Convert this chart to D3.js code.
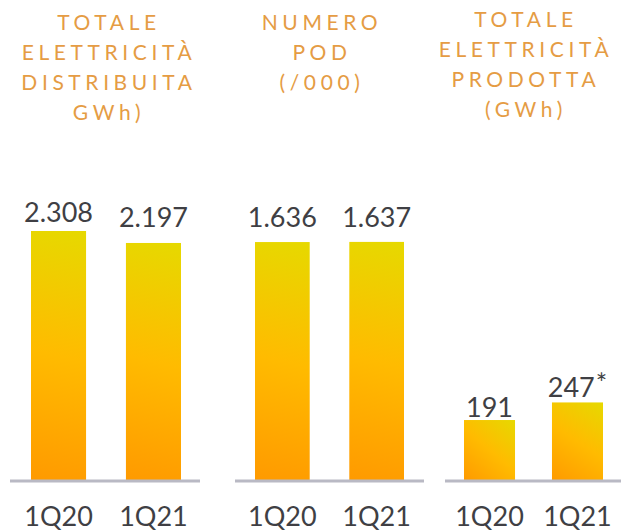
<!DOCTYPE html>
<html>
<head>
<meta charset="utf-8">
<script src="https://cdn.jsdelivr.net/npm/d3@7"></script>
<style>
  html, body { margin: 0; padding: 0; background: #fff; }
  svg { display: block; }
</style>
</head>
<body>
<svg id="chart" width="621" height="531"></svg>
<script>
// Quarterly figures, one small block per panel
const periods = ["1Q20", "1Q21"];
const distributedGWh = [2308, 2197];
const podThousands = [1636, 1637];
const producedGWh = [191, 247];

const valueLabelsDistributed = ["2.308", "2.197"];
const valueLabelsPod = ["1.636", "1.637"];
const valueLabelsProduced = ["191", "247"];
const noteMarksProduced = ["", "*"];

const titleDistributed = ["TOTALE", "ELETTRICITÀ", "DISTRIBUITA", "GWh)"];
const titlePod = ["NUMERO", "POD", "(/000)"];
const titleProduced = ["TOTALE", "ELETTRICITÀ", "PRODOTTA", "(GWh)"];

// Layout of the three small-multiple panels (each has its own value scale)
const panels = [
  { values: distributedGWh, labels: valueLabelsDistributed, notes: ["", ""], title: titleDistributed,
    bandRange: [31, 181], base: [10, 200], yMax: 2308, titleX: 109, titleY: 30, labelGap: [9, 16] },
  { values: podThousands, labels: valueLabelsPod, notes: ["", ""], title: titlePod,
    bandRange: [255, 404], base: [235, 424], yMax: 1712, titleX: 322, titleY: 30, labelGap: [15, 15] },
  { values: producedGWh, labels: valueLabelsProduced, notes: noteMarksProduced, title: titleProduced,
    bandRange: [464, 603], base: [445, 621], yMax: 793, titleX: 526, titleY: 27, labelGap: [3, 5] }
];

const baseY = 480;
const plotH = 249;

const svg = d3.select("#chart");
const defs = svg.append("defs");

panels.forEach((p, pi) => {
  const x = d3.scaleBand().domain(periods).range(p.bandRange).paddingInner(0.42).paddingOuter(0);
  const y = d3.scaleLinear().domain([0, p.yMax]).range([baseY, baseY - plotH]);
  const g = svg.append("g");

  // title
  const title = g.append("text")
    .attr("x", p.titleX)
    .attr("y", p.titleY)
    .attr("text-anchor", "middle")
    .style("font-family", "Lato, 'Open Sans', sans-serif")
    .style("font-size", "21px")
    .style("letter-spacing", "4.6px")
    .style("fill", "#e59c44");
  p.title.forEach((line, i) => {
    title.append("tspan").attr("x", p.titleX).attr("y", p.titleY + i * 30).text(line);
  });

  const rows = periods.map((per, i) => ({ per, v: p.values[i], label: p.labels[i], note: p.notes[i], gap: p.labelGap[i], i }));

  // a gradient per bar: orange at the bottom-left corner, yellow at the top-right one
  rows.forEach(d => {
    const id = `grad-${pi}-${d.i}`;
    const grad = defs.append("linearGradient")
      .attr("id", id)
      .attr("gradientUnits", "userSpaceOnUse")
      .attr("x1", x(d.per)).attr("y1", y(0))
      .attr("x2", x(d.per) + x.bandwidth()).attr("y2", y(d.v));
    grad.append("stop").attr("offset", "0%").attr("stop-color", "#ff9a00");
    grad.append("stop").attr("offset", "50%").attr("stop-color", "#ffbb00");
    grad.append("stop").attr("offset", "100%").attr("stop-color", "#e6d900");
    d.grad = id;
  });

  g.selectAll("rect.bar")
    .data(rows)
    .join("rect")
    .attr("class", "bar")
    .attr("x", d => x(d.per))
    .attr("y", d => y(d.v))
    .attr("width", x.bandwidth())
    .attr("height", d => y(0) - y(d.v))
    .attr("fill", d => `url(#${d.grad})`);

  // baseline
  g.append("line")
    .attr("x1", p.base[0]).attr("x2", p.base[1])
    .attr("y1", baseY + 1).attr("y2", baseY + 1)
    .attr("stroke", "#b9b9c4")
    .attr("stroke-width", 3);

  // value labels
  const vl = g.selectAll("text.value")
    .data(rows)
    .join("text")
    .attr("class", "value")
    .attr("x", d => x(d.per) + x.bandwidth() / 2)
    .attr("y", d => y(d.v) - d.gap)
    .attr("text-anchor", "middle")
    .style("font-family", "Lato, 'Open Sans', sans-serif")
    .style("font-size", "27px")
    .style("fill", "#3f3f44");
  vl.append("tspan").text(d => d.label);
  vl.filter(d => d.note)
    .append("tspan")
    .attr("dx", 1)
    .attr("dy", -4)
    .style("font-size", "27px")
    .text(d => d.note);

  // category labels
  g.selectAll("text.cat")
    .data(rows)
    .join("text")
    .attr("class", "cat")
    .attr("x", d => x(d.per) + x.bandwidth() / 2)
    .attr("y", 526)
    .attr("text-anchor", "middle")
    .style("font-family", "Lato, 'Open Sans', sans-serif")
    .style("font-size", "27px")
    .style("fill", "#3f3f44")
    .text(d => d.per);
});
</script>
</body>
</html>
